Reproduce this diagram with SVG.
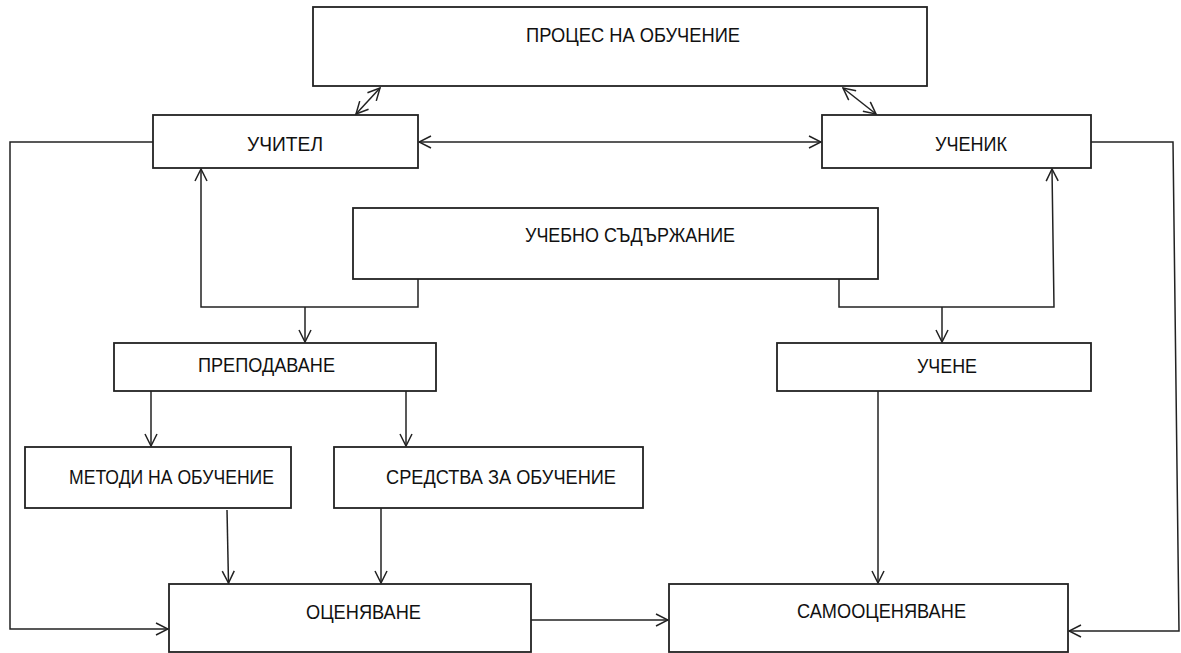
<svg xmlns="http://www.w3.org/2000/svg" width="1181" height="653" viewBox="0 0 1181 653">
<style>
.box{fill:#fff;stroke:#222;stroke-width:1.8}
.lbl{font-family:"Liberation Sans",Arial,sans-serif;font-size:21px;fill:#111}
.c{fill:none;stroke:#222;stroke-width:1.5}
</style>
<defs>
<marker id="a" viewBox="0 0 14 14" refX="13" refY="7" markerWidth="14" markerHeight="14" markerUnits="userSpaceOnUse" orient="auto-start-reverse">
<path d="M1,1 L13,7 L1,13" fill="none" stroke="#222" stroke-width="1.5"/>
</marker>
</defs>
<rect width="1181" height="653" fill="#fff"/>
<g id="n-proces"><rect class="box" x="313" y="7" width="614" height="79"/><text class="lbl" x="526" y="42" textLength="214" lengthAdjust="spacingAndGlyphs">ПРОЦЕС НА ОБУЧЕНИЕ</text></g>
<g id="n-uchitel"><rect class="box" x="153" y="115" width="265" height="53"/><text class="lbl" x="247" y="151" textLength="76" lengthAdjust="spacingAndGlyphs">УЧИТЕЛ</text></g>
<g id="n-uchenik"><rect class="box" x="822" y="115" width="269" height="53"/><text class="lbl" x="935" y="151" textLength="72" lengthAdjust="spacingAndGlyphs">УЧЕНИК</text></g>
<g id="n-sadarzhanie"><rect class="box" x="353" y="208" width="525" height="71"/><text class="lbl" x="525" y="242" textLength="210" lengthAdjust="spacingAndGlyphs">УЧЕБНО СЪДЪРЖАНИЕ</text></g>
<g id="n-prepodavane"><rect class="box" x="114" y="343" width="322" height="48"/><text class="lbl" x="198" y="372" textLength="137" lengthAdjust="spacingAndGlyphs">ПРЕПОДАВАНЕ</text></g>
<g id="n-uchene"><rect class="box" x="777" y="343" width="314" height="48"/><text class="lbl" x="917" y="373" textLength="60" lengthAdjust="spacingAndGlyphs">УЧЕНЕ</text></g>
<g id="n-metodi"><rect class="box" x="25" y="447" width="266" height="61"/><text class="lbl" x="69" y="484" textLength="205" lengthAdjust="spacingAndGlyphs">МЕТОДИ НА ОБУЧЕНИЕ</text></g>
<g id="n-sredstva"><rect class="box" x="334" y="447" width="309" height="61"/><text class="lbl" x="386" y="484" textLength="230" lengthAdjust="spacingAndGlyphs">СРЕДСТВА ЗА ОБУЧЕНИЕ</text></g>
<g id="n-ocenyavane"><rect class="box" x="169" y="584" width="362" height="68"/><text class="lbl" x="306" y="619" textLength="115" lengthAdjust="spacingAndGlyphs">ОЦЕНЯВАНЕ</text></g>
<g id="n-samoocenyavane"><rect class="box" x="669" y="584" width="399" height="68"/><text class="lbl" x="797" y="618" textLength="169" lengthAdjust="spacingAndGlyphs">САМООЦЕНЯВАНЕ</text></g>
<g id="connectors">
<path class="c" d="M380,88 L356,114" marker-start="url(#a)" marker-end="url(#a)"/>
<path class="c" d="M843,88 L876,114" marker-start="url(#a)" marker-end="url(#a)"/>
<path class="c" d="M419,142 L821,142" marker-start="url(#a)" marker-end="url(#a)"/>
<path class="c" d="M418,279 L418,307 L201,307 L201,169" marker-end="url(#a)"/>
<path class="c" d="M305,307 L305,342" marker-end="url(#a)"/>
<path class="c" d="M839,279 L839,307 L1054,307 L1052,169" marker-end="url(#a)"/>
<path class="c" d="M942,307 L942,342" marker-end="url(#a)"/>
<path class="c" d="M151,391 L151,446" marker-end="url(#a)"/>
<path class="c" d="M406,391 L406,446" marker-end="url(#a)"/>
<path class="c" d="M227,510 L228.5,583" marker-end="url(#a)"/>
<path class="c" d="M381,508 L381,583" marker-end="url(#a)"/>
<path class="c" d="M878,391 L878,583" marker-end="url(#a)"/>
<path class="c" d="M531,620 L668,620" marker-end="url(#a)"/>
<path class="c" d="M153,142 L10,142 L10,629 L168,629" marker-end="url(#a)"/>
<path class="c" d="M1091,142 L1173,142 L1179,631 L1069,631" marker-end="url(#a)"/>
</g>
</svg>
